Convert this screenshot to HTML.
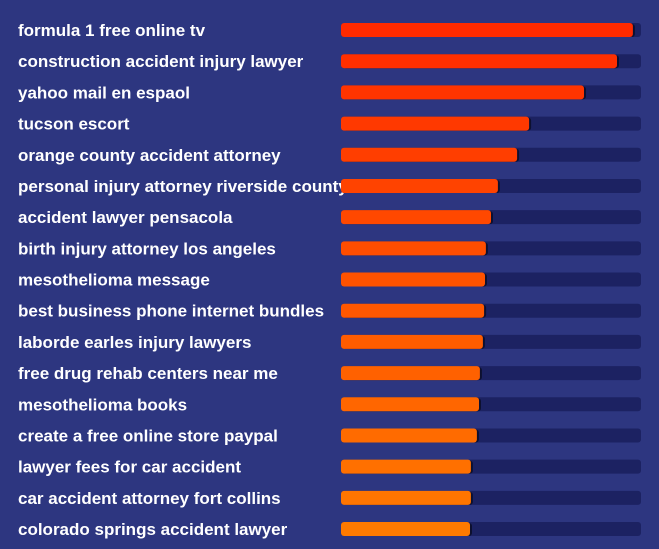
<!DOCTYPE html>
<html><head><meta charset="utf-8"><style>
html,body{margin:0;padding:0;background:#2d3680;}
svg{display:block;}
text{font-family:"Liberation Sans Narrow","Liberation Sans",sans-serif;font-weight:bold;font-size:17px;fill:#fff;}
</style></head><body>
<svg id="chart" width="659" height="549" xmlns="http://www.w3.org/2000/svg">
<rect x="0" y="0" width="659" height="549" fill="#2d3680"/>
</svg>
<script>
const categories = ["formula 1 free online tv","construction accident injury lawyer","yahoo mail en espaol","tucson escort","orange county accident attorney","personal injury attorney riverside county","accident lawyer pensacola","birth injury attorney los angeles","mesothelioma message","best business phone internet bundles","laborde earles injury lawyers","free drug rehab centers near me","mesothelioma books","create a free online store paypal","lawyer fees for car accident","car accident attorney fort collins","colorado springs accident lawyer"];
const values = [97.3,92,81,62.7,58.7,52.3,50,48.3,48,47.7,47.3,46.3,46,45.3,43.3,43.3,43];
const maxValue = 100;
const svg = document.getElementById('chart');
const NS = 'http://www.w3.org/2000/svg';
const x0 = 341, trackW = 300, y0 = 30, step = 31.19, barH = 14;
const xScale = v => v / maxValue * trackW;
const yScale = i => y0 + i * step;
function color(i){
  const t = i/(categories.length-1);
  const g = Math.round(42 + t*(122-42));
  return 'rgb(255,'+g+',0)';
}
categories.forEach((c,i)=>{
  const cy = yScale(i);
  const t = document.createElementNS(NS,'text');
  
  
  t.setAttribute('x', 18);
  t.setAttribute('y', cy+6);
  t.textContent = c;
  svg.appendChild(t);
  const tr = document.createElementNS(NS,'rect');
  
  
  tr.setAttribute('x', x0); tr.setAttribute('y', cy-barH/2);
  tr.setAttribute('width', trackW); tr.setAttribute('height', barH);
  tr.setAttribute('rx', 3); tr.setAttribute('fill', '#1c2262');
  svg.appendChild(tr);
  const sh = document.createElementNS(NS,'rect');
  
  
  sh.setAttribute('x', x0+2); sh.setAttribute('y', cy-barH/2+1);
  sh.setAttribute('width', xScale(values[i])); sh.setAttribute('height', barH-1);
  sh.setAttribute('rx', 3); sh.setAttribute('fill', '#0d1030');
  svg.appendChild(sh);
  const b = document.createElementNS(NS,'rect');
  
  
  b.setAttribute('x', x0); b.setAttribute('y', cy-barH/2);
  b.setAttribute('width', xScale(values[i])); b.setAttribute('height', barH);
  b.setAttribute('rx', 3); b.setAttribute('fill', color(i));
  svg.appendChild(b);
});
</script>
</body></html>
